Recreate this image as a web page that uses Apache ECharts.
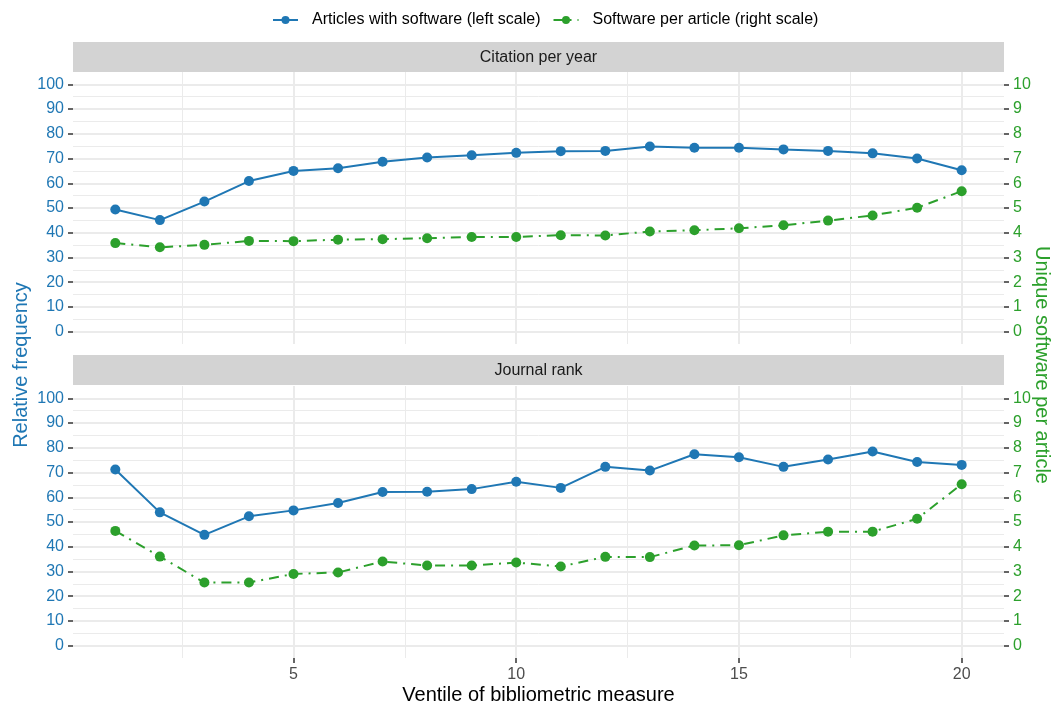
<!DOCTYPE html>
<html>
<head>
<meta charset="utf-8">
<script src="https://cdn.jsdelivr.net/npm/echarts@6/dist/echarts.min.js"></script>
<style>
  html, body { margin: 0; padding: 0; background: #fff; }
  #chart { width: 1052px; height: 704px; }
</style>
</head>
<body>
<div id="chart"></div>
<script>
// 数据：横轴为文献计量指标的二十分位
const ventiles = [1, 2, 3, 4, 5, 6, 7, 8, 9, 10, 11, 12, 13, 14, 15, 16, 17, 18, 19, 20];
// 上面板：Citation per year
const citeArticles = [49.4, 45.1, 52.6, 60.9, 65.0, 66.1, 68.7, 70.4, 71.3, 72.3, 73.0, 73.1, 74.9, 74.4, 74.4, 73.7, 73.1, 72.1, 70.0, 65.3];
const citeSoftware = [3.58, 3.41, 3.51, 3.67, 3.66, 3.72, 3.74, 3.78, 3.83, 3.83, 3.90, 3.89, 4.05, 4.10, 4.18, 4.30, 4.49, 4.70, 5.01, 5.68];
// 下面板：Journal rank
const rankArticles = [71.2, 53.9, 44.8, 52.3, 54.7, 57.7, 62.1, 62.2, 63.3, 66.3, 63.8, 72.3, 70.8, 77.4, 76.2, 72.3, 75.3, 78.5, 74.3, 73.1];
const rankSoftware = [4.64, 3.60, 2.55, 2.55, 2.90, 2.96, 3.40, 3.24, 3.24, 3.36, 3.20, 3.59, 3.58, 4.05, 4.06, 4.46, 4.61, 4.61, 5.13, 6.53];
// 刻度
const leftTicks = [0, 10, 20, 30, 40, 50, 60, 70, 80, 90, 100];
const leftMinor = [5, 15, 25, 35, 45, 55, 65, 75, 85, 95];
const rightTicks = [0, 1, 2, 3, 4, 5, 6, 7, 8, 9, 10];
const xTicks = [5, 10, 15, 20];
const xMinor = [2.5, 7.5, 12.5, 17.5];
const panelTitles = ['Citation per year', 'Journal rank'];

const BLUE = '#1F77B4';
const GREEN = '#2CA02C';
const FONT = 'Liberation Sans';
const seriesNames = ['Articles with software (left scale)', 'Software per article (right scale)'];

function pairs(ys) {
    return ventiles.map((x, i) => [x, ys[i]]);
}

const chartDom = document.getElementById('chart');
const myChart = echarts.init(chartDom);

const gridTops = [72, 386];
const grids = gridTops.map(t => ({ left: 73, width: 931, top: t, height: 272, containLabel: false }));

const xAxes = [];
const yAxes = [];
grids.forEach((g, gi) => {
    const isBottom = gi === 1;
    // 主 x 轴（主网格线）
    xAxes.push({
        type: 'value', gridIndex: gi, position: 'bottom', min: 0.05, max: 20.95,
        axisLine: { show: false, onZero: false },
        axisTick: { show: isBottom, inside: false, customValues: xTicks, length: 5, lineStyle: { color: '#333', width: 1.5 } },
        axisLabel: { show: isBottom, customValues: xTicks, color: '#4D4D4D', fontSize: 16, fontFamily: FONT, margin: 9 },
        splitLine: { show: true, lineStyle: { color: '#EBEBEB', width: 2 } }
    });
    // 次 x 轴（次网格线）
    xAxes.push({
        type: 'value', gridIndex: gi, position: 'bottom', min: 0.05, max: 20.95,
        axisLine: { show: false, onZero: false },
        axisTick: { show: false, customValues: xMinor },
        axisLabel: { show: false, customValues: xMinor },
        splitLine: { show: true, lineStyle: { color: '#EBEBEB', width: 1 } }
    });
    // 左轴
    yAxes.push({
        type: 'value', gridIndex: gi, position: 'left', min: -5, max: 105,
        axisLine: { show: false, onZero: false },
        axisTick: { show: true, inside: false, customValues: leftTicks, length: 5, lineStyle: { color: '#333', width: 1.5 } },
        axisLabel: { customValues: leftTicks, color: BLUE, fontSize: 16, fontFamily: FONT, margin: 9 },
        splitLine: { show: true, lineStyle: { color: '#EBEBEB', width: 2 } }
    });
    // 右轴
    yAxes.push({
        type: 'value', gridIndex: gi, position: 'right', min: -0.5, max: 10.5,
        axisLine: { show: false, onZero: false },
        axisTick: { show: true, inside: false, customValues: rightTicks, length: 5, lineStyle: { color: '#333', width: 1.5 } },
        axisLabel: { customValues: rightTicks, color: GREEN, fontSize: 16, fontFamily: FONT, margin: 9 },
        splitLine: { show: false }
    });
    // 次网格线
    yAxes.push({
        type: 'value', gridIndex: gi, position: 'left', min: -5, max: 105,
        axisLine: { show: false, onZero: false },
        axisTick: { show: false, customValues: leftMinor },
        axisLabel: { show: false, customValues: leftMinor },
        splitLine: { show: true, lineStyle: { color: '#EBEBEB', width: 1 } }
    });
});

const panelData = [[citeArticles, citeSoftware], [rankArticles, rankSoftware]];
const series = [];
panelData.forEach((pd, gi) => {
    series.push({
        name: seriesNames[0], type: 'line', xAxisIndex: gi * 2, yAxisIndex: gi * 3,
        data: pairs(pd[0]), symbol: 'circle', symbolSize: 10,
        itemStyle: { color: BLUE }, lineStyle: { color: BLUE, width: 2 }, z: 5
    });
    series.push({
        name: seriesNames[1], type: 'line', xAxisIndex: gi * 2, yAxisIndex: gi * 3 + 1,
        data: pairs(pd[1]), symbol: 'circle', symbolSize: 10,
        itemStyle: { color: GREEN }, lineStyle: { color: GREEN, width: 2, type: [10, 6, 2, 6] }, z: 4
    });
});

// 分面标题条
const graphics = [];
[42, 355].forEach((y, i) => {
    graphics.push({
        type: 'rect', left: 73, top: y, shape: { width: 931, height: 30 },
        style: { fill: '#D3D3D3' }, silent: true
    });
    graphics.push({
        type: 'text', x: 538.5, y: y + 16,
        style: { text: panelTitles[i], fill: '#1A1A1A', font: '16px "' + FONT + '"', align: 'center', verticalAlign: 'middle' }
    });
});
graphics.push({
    type: 'text', x: 21, y: 365, rotation: Math.PI / 2,
    style: { text: 'Relative frequency', fill: BLUE, font: '20px "' + FONT + '"', align: 'center', verticalAlign: 'middle' }
});
graphics.push({
    type: 'text', x: 1042, y: 365, rotation: -Math.PI / 2,
    style: { text: 'Unique software per article', fill: GREEN, font: '20px "' + FONT + '"', align: 'center', verticalAlign: 'middle' }
});
graphics.push({
    type: 'text', x: 538.5, y: 695,
    style: { text: 'Ventile of bibliometric measure', fill: '#000', font: '20px "' + FONT + '"', align: 'center', verticalAlign: 'middle' }
});

const option = {
    animation: false,
    backgroundColor: '#fff',
    legend: {
        data: seriesNames,
        left: 272, top: 12, padding: 0,
        itemWidth: 25, itemHeight: 10, itemGap: 12,
        textStyle: { fontSize: 16, fontFamily: FONT, color: '#000', padding: [0, 0, 0, 9] }
    },
    grid: grids,
    xAxis: xAxes,
    yAxis: yAxes,
    series: series,
    graphic: graphics
};

myChart.setOption(option);
window.addEventListener('resize', () => myChart.resize());
</script>
</body>
</html>
